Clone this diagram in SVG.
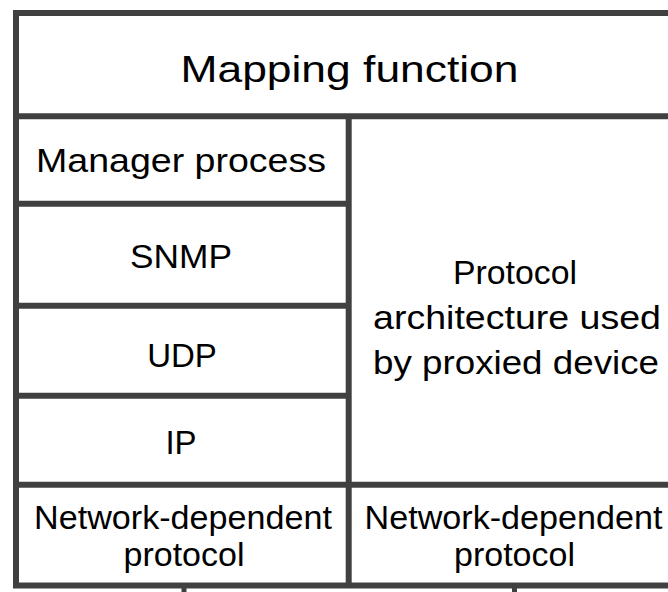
<svg xmlns="http://www.w3.org/2000/svg" width="668" height="592" viewBox="0 0 668 592">
<style>
.ln{stroke:#404040;stroke-width:6;fill:none}
.tk{stroke:#404040;stroke-width:5;fill:none}
.t{font-family:"Liberation Sans","DejaVu Sans",sans-serif;font-size:33px;fill:#000;text-anchor:middle}
.big{font-size:37px}
</style>
<rect width="668" height="592" fill="#fff"/>
<g id="frame">
<rect class="ln" x="16" y="13" width="680" height="572.5"/>
</g>
<g id="mapping">
<line class="ln" x1="16" y1="116.3" x2="668" y2="116.3"/>
<text class="t big" x="349.5" y="82" textLength="338" lengthAdjust="spacingAndGlyphs">Mapping function</text>
</g>
<g id="divider">
<line class="ln" x1="348.7" y1="116.3" x2="348.7" y2="585.5"/>
</g>
<g id="manager">
<line class="ln" x1="16" y1="203.7" x2="348.7" y2="203.7"/>
<text class="t" x="181" y="172" textLength="290" lengthAdjust="spacingAndGlyphs">Manager process</text>
</g>
<g id="snmp">
<line class="ln" x1="16" y1="305.7" x2="348.7" y2="305.7"/>
<text class="t" x="181" y="268" textLength="102" lengthAdjust="spacingAndGlyphs">SNMP</text>
</g>
<g id="udp">
<line class="ln" x1="16" y1="395.7" x2="348.7" y2="395.7"/>
<text class="t" x="182" y="367">UDP</text>
</g>
<g id="ip">
<text class="t" x="181" y="454">IP</text>
</g>
<g id="proxied">
<text class="t" x="515" y="284" textLength="124" lengthAdjust="spacingAndGlyphs">Protocol</text>
<text class="t" x="517" y="329" textLength="288" lengthAdjust="spacingAndGlyphs">architecture used</text>
<text class="t" x="516" y="374" textLength="286" lengthAdjust="spacingAndGlyphs">by proxied device</text>
</g>
<g id="netdep-left">
<line class="ln" x1="16" y1="484.7" x2="668" y2="484.7"/>
<text class="t" x="183" y="529" textLength="298" lengthAdjust="spacingAndGlyphs">Network-dependent</text>
<text class="t" x="184" y="566" textLength="121" lengthAdjust="spacingAndGlyphs">protocol</text>
</g>
<g id="netdep-right">
<text class="t" x="513.5" y="529" textLength="298" lengthAdjust="spacingAndGlyphs">Network-dependent</text>
<text class="t" x="514.5" y="566" textLength="121" lengthAdjust="spacingAndGlyphs">protocol</text>
</g>
<g id="connectors">
<line class="tk" x1="184" y1="585" x2="184" y2="592"/>
<line class="tk" x1="514.5" y1="585" x2="514.5" y2="592"/>
</g>
</svg>
